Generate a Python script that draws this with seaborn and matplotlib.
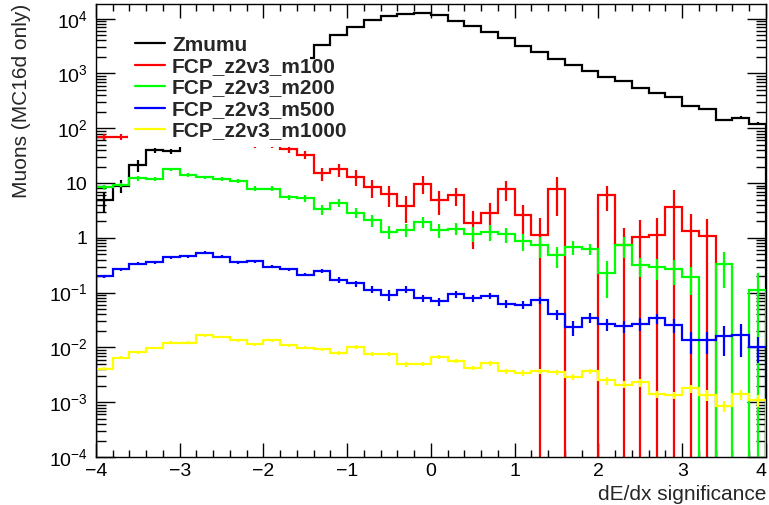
import numpy as np
import matplotlib
matplotlib.use("Agg")
import matplotlib.pyplot as plt
from matplotlib.lines import Line2D
from matplotlib.patches import Rectangle
from matplotlib.ticker import FixedLocator, FuncFormatter, NullFormatter
import seaborn as sns

sns.set_theme(style="ticks")
plt.rcParams["font.family"] = ["Liberation Sans", "DejaVu Sans"]
plt.rcParams["mathtext.fontset"] = "custom"
plt.rcParams["mathtext.rm"] = "Liberation Sans"
plt.rcParams["mathtext.default"] = "regular"

## Binning: 40 bins between -4 and 4
x_lo, x_hi, n_bins = -4.0, 4.0, 40

## Bin contents and their errors
zmumu = [5, 9, 21, 40, 38, 60, 95, 160, 260, 420, 700, 1150, 1900, 3300, 5000, 7140,
         9470, 11200, 12300, 12600, 11800, 9150, 7420, 5740, 4520, 3170, 2470, 1860,
         1440, 1130, 855, 720, 537, 436, 368, 254, 229, 142, 156, 122]
zmumu_err = [2, 2.5, 5, 4.5, 4.5, 6, 8, 10, 13, 16, 20, 26, 33, 40, 50, 60, 70, 75, 80,
             80, 78, 70, 62, 55, 48, 40, 35, 30, 26, 23, 20, 18, 16, 14, 13, 11, 10, 8, 8, 7]

m100 = [70, 70, 75, 80, 80, 75, 70, 65, 60, 52, 52, 41, 33, 15, 17.7, 13, 8.3, 6.3, 3.8,
        9.8, 4.9, 6.0, 1.83, 2.87, 7.7, 2.6, 1.12, 7.7, 0, 0, 6.0, 0.74, 1.04, 1.12, 3.7,
        1.34, 1.07, 0, 0, 0]
m100_err = [8, 8, 8, 8, 8, 8, 8, 8, 8, 8, 8, 6, 5.5, 4, 4.6, 4, 3, 2.7, 1.9, 3.5, 2.3, 2.2,
            1.2, 1.5, 3, 1.4, 1.15, 5.2, 0, 0, 2.9, 0.76, 1.06, 1.2, 3.8, 1.36, 1.1, 0, 0, 0]

m200 = [8.3, 9.2, 12.2, 11.7, 17.8, 14, 12.7, 11.7, 10.9, 7.95, 7.95, 5.5, 5.3, 3.3, 4.4,
        2.87, 2.1, 1.29, 1.42, 1.96, 1.38, 1.48, 1.2, 1.29, 1.17, 0.87, 0.73, 0.48, 0.68,
        0.63, 0.23, 0.73, 0.316, 0.29, 0.27, 0.19, 0, 0.34, 0, 0.11]
m200_err = [0.9, 0.9, 1.1, 1.0, 1.4, 1.1, 1.0, 0.95, 0.9, 0.75, 0.75, 0.6, 0.7, 0.7, 0.8,
            0.6, 0.5, 0.35, 0.4, 0.45, 0.4, 0.35, 0.35, 0.4, 0.35, 0.3, 0.3, 0.2, 0.2, 0.15,
            0.15, 0.3, 0.12, 0.12, 0.13, 0.1, 0, 0.22, 0, 0.12]

m500 = [0.20, 0.265, 0.34, 0.355, 0.44, 0.46, 0.54, 0.45, 0.355, 0.375, 0.30, 0.265, 0.214,
        0.25, 0.17, 0.147, 0.114, 0.09, 0.114, 0.08, 0.069, 0.093, 0.079, 0.088, 0.063, 0.06,
        0.073, 0.04, 0.0235, 0.035, 0.0266, 0.0245, 0.027, 0.034, 0.0257, 0.0135, 0.0135,
        0.016, 0.0166, 0.0102]
m500_err = [0.014, 0.018, 0.022, 0.022, 0.027, 0.028, 0.032, 0.028, 0.024, 0.025, 0.021,
            0.019, 0.016, 0.018, 0.02, 0.018, 0.017, 0.02, 0.016, 0.012, 0.012, 0.013, 0.011,
            0.012, 0.01, 0.009, 0.011, 0.008, 0.0075, 0.007, 0.007, 0.006, 0.007, 0.007,
            0.0075, 0.006, 0.006, 0.009, 0.01, 0.005]

m1000 = [0.0041, 0.0065, 0.0081, 0.0098, 0.0123, 0.0123, 0.0167, 0.0156, 0.0135, 0.0114,
         0.0135, 0.011, 0.0099, 0.0093, 0.0080, 0.0102, 0.0075, 0.0075, 0.0049, 0.0050,
         0.0067, 0.0056, 0.0042, 0.0051, 0.0037, 0.0034, 0.0037, 0.0035, 0.0029, 0.0037,
         0.0025, 0.0021, 0.0023, 0.0014, 0.00135, 0.0018, 0.00135, 0.00087, 0.0014, 0.00108]
m1000_err = [0.0003, 0.0004, 0.0005, 0.0006, 0.0007, 0.0007, 0.0009, 0.0008, 0.0007, 0.0007,
             0.0008, 0.0007, 0.0006, 0.0006, 0.0006, 0.0007, 0.0006, 0.0006, 0.0005, 0.0005,
             0.0006, 0.0005, 0.0004, 0.0005, 0.0004, 0.0004, 0.0004, 0.0004, 0.0004, 0.0004,
             0.0004, 0.0003, 0.0004, 0.0002, 0.0002, 0.0003, 0.0003, 0.0002, 0.0003, 0.00025]

samples = ["Zmumu", "FCP_z2v3_m100", "FCP_z2v3_m200", "FCP_z2v3_m500", "FCP_z2v3_m1000"]
contents = [zmumu, m100, m200, m500, m1000]
errors = [zmumu_err, m100_err, m200_err, m500_err, m1000_err]
colors = ["#000000", "#ff0000", "#00ff00", "#0000ff", "#ffff00"]

x_major = [-4, -3, -2, -1, 0, 1, 2, 3, 4]
y_decades = list(range(-4, 5))

edges = np.linspace(x_lo, x_hi, n_bins + 1)
centers = 0.5 * (edges[:-1] + edges[1:])
floor = 1e-8  # empty bins drop to the bottom of the frame like ROOT does

fig, ax = plt.subplots(figsize=(7.69, 5.05), dpi=100)
fig.subplots_adjust(left=0.1248, right=0.9961, bottom=0.095, top=0.992)
ax.set_yscale("log")

for i, (name, vals, errs, col) in enumerate(zip(samples, contents, errors, colors)):
    v = np.asarray(vals, dtype=float)
    e = np.asarray(errs, dtype=float)
    ax.stairs(np.where(v > 0, v, floor), edges, baseline=floor, color=col,
              lw=1.6, zorder=2 + i)
    filled = v > 0
    low = np.where(v - e > 0, v - e, floor)
    ax.vlines(centers[filled], low[filled], (v + e)[filled], color=col, lw=1.6, zorder=2 + i)

ax.set_xlim(x_lo, x_hi)
ax.set_ylim(1e-4, 1.85e4)

## ROOT-like axes
ax.xaxis.set_major_locator(FixedLocator(x_major))
ax.xaxis.set_minor_locator(FixedLocator(edges))
ax.yaxis.set_major_locator(FixedLocator([10.0 ** d for d in y_decades]))
ax.yaxis.set_minor_locator(FixedLocator([m * 10.0 ** d for d in y_decades[:-1]
                                         for m in range(2, 10)]))
ax.yaxis.set_minor_formatter(NullFormatter())


def root_log_fmt(val, pos):
    n = int(round(np.log10(val)))
    if n == 0:
        return "1"
    if n == 1:
        return "10"
    return f"$10^{{{n}}}$"


ax.yaxis.set_major_formatter(FuncFormatter(root_log_fmt))
ax.tick_params(which="both", direction="in", top=True, right=True, colors="black",
               labelsize=14, width=1)
ax.tick_params(axis="x", which="major", length=10, pad=4)
ax.tick_params(axis="x", which="minor", length=5)
ax.tick_params(axis="y", which="major", length=14, pad=6)
ax.tick_params(axis="y", which="minor", length=7)
for sp in ax.spines.values():
    sp.set_color("black")
    sp.set_linewidth(1)
    sp.set_zorder(20)

ax.set_xlabel("dE/dx significance", loc="right", fontsize=15, labelpad=4)
ax.set_ylabel("Muons (MC16d only)", loc="top", fontsize=15, labelpad=13)

## legend with an opaque white box (hides what is under it, as in ROOT)
ax.add_patch(Rectangle((0.048, 0.684), 0.271, 0.259, transform=ax.transAxes,
                       facecolor="white", edgecolor="none", zorder=10))
handles = [Line2D([], [], color=c, lw=1.6) for c in colors]
ax.legend(handles, samples, loc="upper left", bbox_to_anchor=(0.058, 0.9305),
          frameon=False, borderpad=0, borderaxespad=0, handlelength=1.44,
          handletextpad=0.35, labelspacing=0.12,
          prop={"family": "Liberation Sans", "weight": "bold", "size": 15}
          ).set_zorder(11)

# keep the last x label inside the canvas, as ROOT does
fig.canvas.draw()
ax.xaxis.get_major_ticks()[-1].label1.set_horizontalalignment("right")
ax.xaxis.get_major_ticks()[-1].label1.set_x(x_hi + 0.04)

plt.savefig("out.png", dpi=100)
